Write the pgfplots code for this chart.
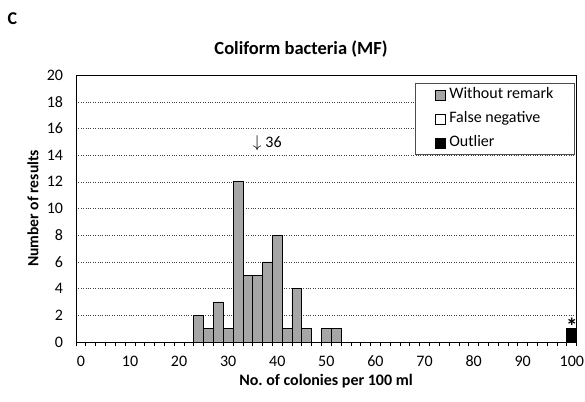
\documentclass[border=0pt]{standalone}
\usepackage{fontspec}
\setmainfont{Carlito}
\usepackage{pgfplots}
\pgfplotsset{compat=1.18}

\definecolor{bargray}{RGB}{166,166,166}

\begin{document}
\begin{tikzpicture}[x=1bp,y=1bp]
\useasboundingbox (0,0) rectangle (585,401);
\begin{axis}[
	at={(76bp,59bp)}, anchor=south west,
	scale only axis,
	width=500.7bp, height=267bp,
	xmin=-1, xmax=101,
	ymin=0, ymax=20,
	ybar, bar width=2, bar shift=0pt,
	xtick={0,10,...,100},
	minor xtick={-1,1,...,101},
	ytick={0,2,...,20},
	major tick length=0pt,
	minor tick length=4bp,
	tick align=outside,
	xtick pos=lower, ytick pos=left,
	ymajorgrids,
	grid style={dotted, black!75},
	axis line style={black, line width=0.8pt},
	every tick/.style={black, line width=0.8pt},
	/pgf/number format/assume math mode=true,
	tick label style={font=\fontsize{16bp}{18bp}\selectfont},
	xticklabel style={yshift=-10.5bp},
	yticklabel style={xshift=-9.5bp},
	legend style={at={(0.9952,0.970)}, anchor=north east,
		draw=black!70, line width=0.8pt,
		inner xsep=19bp, inner ysep=3bp,
		row sep=5.7bp,
		/tikz/every odd column/.append style={column sep=2.5bp},
		nodes={inner sep=1.5bp, text height=11bp, text depth=4bp,
			font=\fontsize{16bp}{18bp}\selectfont}},
	legend cell align=left,
	legend image code/.code={\draw[#1, line width=0.6pt] (0bp,-5bp) rectangle (10bp,5bp);},
]
% Without remark
\addplot[fill=bargray, draw=black, line width=0.8pt, bar shift=0pt] coordinates {
	(24,2) (26,1) (28,3) (30,1) (32,12) (34,5) (36,5) (38,6)
	(40,8) (42,1) (44,4) (46,1) (50,1) (52,1)
};
\addlegendentry{Without remark}
% False negative (no results)
\addlegendimage{fill=white, draw=black}
\addlegendentry{False negative}
% Outlier
\addplot[fill=black, draw=black, line width=0.8pt, bar shift=0pt,
	nodes near coords={\textbf{*}},
	every node near coord/.append style={font=\fontsize{23bp}{25bp}\selectfont, yshift=-10bp}]
	coordinates {(100,1)};
\addlegendentry{Outlier}

\node[anchor=west, inner sep=0pt, font=\fontsize{16bp}{18bp}\selectfont]
	at (axis cs:36,14.9) [xshift=-5bp] {$\downarrow$\hspace{4bp}36};
\end{axis}

\node[font=\bfseries\fontsize{18.5bp}{21bp}\selectfont] at (301,352) {Coliform bacteria (MF)};
\node[font=\bfseries\fontsize{16bp}{18bp}\selectfont] at (326,20) {No.\ of colonies per 100 ml};
\node[font=\bfseries\fontsize{15.6bp}{18bp}\selectfont, rotate=90] at (33,192.5) {Number of results};
\node[font=\bfseries\fontsize{18bp}{20bp}\selectfont] at (12.5,382) {C};
\end{tikzpicture}
\end{document}
